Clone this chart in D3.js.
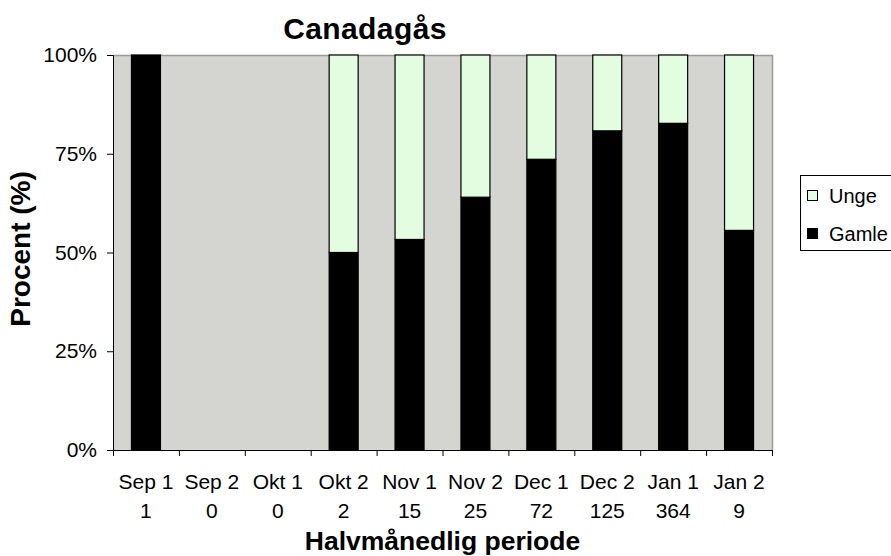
<!DOCTYPE html>
<html>
<head>
<meta charset="utf-8">
<script src="https://cdn.jsdelivr.net/npm/d3@7"></script>
<style>
  body { margin: 0; background: #fff; }
  svg { display: block; font-family: 'Liberation Sans', Arial, sans-serif; }
</style>
</head>
<body>
<svg id="chart" width="891" height="556"></svg>
<script>
// periods on x axis and number of birds per period (second label row)
var periods = ['Sep 1', 'Sep 2', 'Okt 1', 'Okt 2', 'Nov 1', 'Nov 2', 'Dec 1', 'Dec 2', 'Jan 1', 'Jan 2']
var counts = [1, 0, 0, 2, 15, 25, 72, 125, 364, 9]

// share in percent
var gamle = [100, 0, 0, 50, 53.3, 64, 73.6, 80.8, 82.7, 55.6]
var unge = [0, 0, 0, 50, 46.7, 36, 26.4, 19.2, 17.3, 44.4]

var yTicks = [0, 25, 50, 75, 100]
var seriesKeys = ['Gamle', 'Unge']
var legendKeys = ['Unge', 'Gamle']
var colors = { Gamle: '#000000', Unge: '#e3fde0' }

var margin = { left: 113, right: 119, top: 55, bottom: 106 }
var width = 891
var height = 556

var svg = d3.select('#chart')

var rows = periods.map((p, i) => ({ period: p, Gamle: gamle[i], Unge: unge[i] }))
var stacked = d3.stack().keys(seriesKeys)(rows)

var x = d3
  .scaleBand()
  .domain(periods)
  .range([margin.left, width - margin.right])
  .paddingInner(0.56)
  .paddingOuter(0.28)

var xEdges = d3
  .scaleBand()
  .domain(periods)
  .range([margin.left, width - margin.right])

var y = d3
  .scaleLinear()
  .domain([0, 100])
  .range([height - margin.bottom, margin.top])

// plot background
svg
  .append('rect')
  .attr('x', margin.left)
  .attr('y', margin.top)
  .attr('width', width - margin.left - margin.right)
  .attr('height', height - margin.top - margin.bottom)
  .attr('fill', '#d4d5d0')

// top + right border
svg
  .append('path')
  .attr('d', 'M' + margin.left + ',' + (margin.top + 0.5) + 'H' + (width - margin.right + 0.5) + 'V' + (height - margin.bottom))
  .attr('fill', 'none')
  .attr('stroke', '#9a9a9a')
  .attr('stroke-width', 1.5)

// bars
svg
  .append('g')
  .selectAll('g')
  .data(stacked)
  .enter()
  .append('g')
  .attr('fill', d => colors[d.key])
  .selectAll('rect')
  .data(d => d.filter(v => v[1] - v[0] > 0))
  .enter()
  .append('rect')
  .attr('x', d => x(d.data.period))
  .attr('y', d => y(d[1]))
  .attr('width', x.bandwidth())
  .attr('height', d => y(d[0]) - y(d[1]))
  .attr('stroke', '#000')
  .attr('stroke-width', 1.2)

// y axis
var yAxis = svg
  .append('g')
  .attr('transform', 'translate(' + margin.left + ',0)')
  .call(
    d3
      .axisLeft(y)
      .tickValues(yTicks)
      .tickFormat(d => d + '%')
      .tickSize(6)
      .tickPadding(10)
  )
yAxis.select('.domain').attr('stroke', '#000')
yAxis.selectAll('.tick line').attr('stroke', '#000')
yAxis
  .selectAll('.tick text')
  .attr('font-size', 21)
  .attr('fill', '#000')
  .attr('font-family', "'Liberation Sans', Arial, sans-serif")

// x axis: ticks at category edges
var edges = periods.map(p => xEdges(p)).concat([width - margin.right])
var xAxis = svg.append('g')
xAxis
  .append('line')
  .attr('x1', margin.left)
  .attr('x2', width - margin.right)
  .attr('y1', y(0) + 0.5)
  .attr('y2', y(0) + 0.5)
  .attr('stroke', '#000')
xAxis
  .selectAll('line.tk')
  .data(edges)
  .enter()
  .append('line')
  .attr('class', 'tk')
  .attr('x1', d => d + 0.5)
  .attr('x2', d => d + 0.5)
  .attr('y1', y(0))
  .attr('y2', y(0) + 6)
  .attr('stroke', '#000')

var labels = xAxis
  .selectAll('g.lbl')
  .data(periods)
  .enter()
  .append('g')
  .attr('class', 'lbl')
  .attr('transform', d => 'translate(' + (xEdges(d) + xEdges.bandwidth() / 2) + ',0)')
labels
  .append('text')
  .attr('y', 489)
  .attr('text-anchor', 'middle')
  .attr('font-size', 21)
  .text(d => d)
labels
  .append('text')
  .attr('y', 518)
  .attr('text-anchor', 'middle')
  .attr('font-size', 21)
  .text((d, i) => counts[i])

// titles
svg
  .append('text')
  .attr('x', 365)
  .attr('y', 39)
  .attr('text-anchor', 'middle')
  .attr('font-size', 30)
  .attr('letter-spacing', 0.4)
  .attr('font-weight', 'bold')
  .text('Canadagås')

svg
  .append('text')
  .attr('x', (margin.left + width - margin.right) / 2)
  .attr('y', 550)
  .attr('text-anchor', 'middle')
  .attr('font-size', 26.5)
  .attr('font-weight', 'bold')
  .text('Halvmånedlig periode')

svg
  .append('text')
  .attr('transform', 'translate(30,' + 249 + ') rotate(-90)')
  .attr('text-anchor', 'middle')
  .attr('font-size', 28)
  .attr('font-weight', 'bold')
  .text('Procent (%)')

// legend
var legend = svg.append('g')
legend
  .append('rect')
  .attr('x', 800.5)
  .attr('y', 175.5)
  .attr('width', 100)
  .attr('height', 75)
  .attr('fill', '#fff')
  .attr('stroke', '#000')
  .attr('stroke-width', 1)

var items = legend
  .selectAll('g')
  .data(legendKeys)
  .enter()
  .append('g')
  .attr('transform', (d, i) => 'translate(807,' + (195 + i * 38) + ')')
items
  .append('rect')
  .attr('x', 0.5)
  .attr('y', -4.5)
  .attr('width', 10)
  .attr('height', 10)
  .attr('fill', d => colors[d])
  .attr('stroke', '#000')
items
  .append('text')
  .attr('x', 22)
  .attr('y', 7.5)
  .attr('font-size', 20)
  .text(d => d)
</script>
</body>
</html>
